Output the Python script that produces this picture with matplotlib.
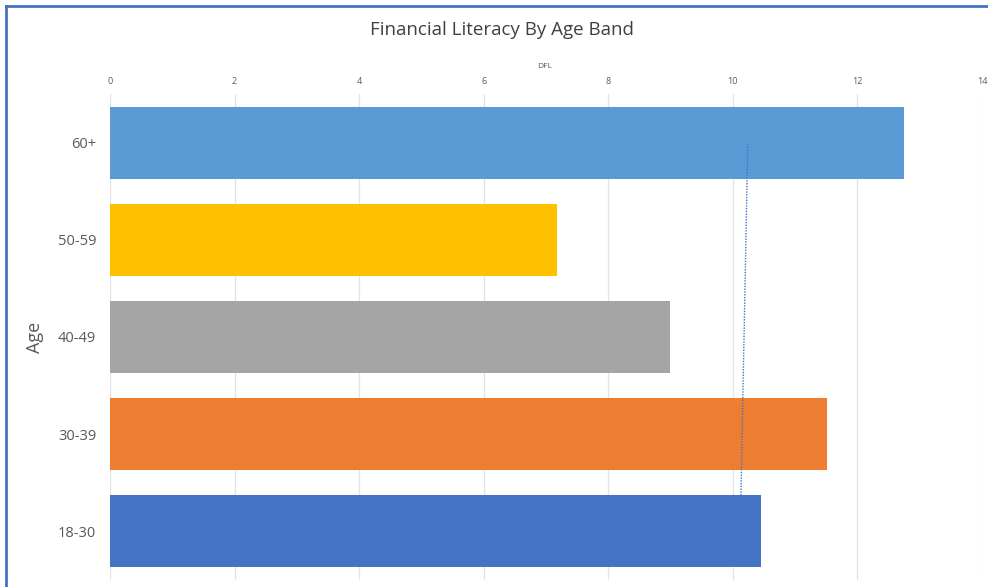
import matplotlib
matplotlib.use("Agg")
import matplotlib.pyplot as plt
from matplotlib.lines import Line2D

# Data
age_bands = ["18-30", "30-39", "40-49", "50-59", "60+"]
dfl_scores = [10.45, 11.51, 8.99, 7.17, 12.74]
bar_colors = ["#4472C4", "#ED7D31", "#A5A5A5", "#FFC000", "#5B9BD5"]
x_ticks = [0, 2, 4, 6, 8, 10, 12, 14]
trend_values = [10.13, 10.24]  # dotted trend from 18-30 up to 60+

plt.rcParams["font.family"] = ["Open Sans", "DejaVu Sans"]

fig = plt.figure(figsize=(9.88, 5.87), dpi=100)
ax = fig.add_axes([110 / 988, 1 - 580 / 587, 872 / 988, 486 / 587])

y = list(range(len(age_bands)))
ax.barh(y, dfl_scores, height=0.74, color=bar_colors, zorder=2)

# dotted trend line, from top edge of the 18-30 bar to centre of 60+
ax.plot(trend_values, [0.37, 4], linestyle=(0, (1, 1)), color="#4472C4",
        linewidth=1.0, zorder=3)

ax.set_xlim(0, 14)
ax.set_ylim(-0.5, 4.5)
ax.set_xticks(x_ticks)
ax.set_xticklabels([str(t) for t in x_ticks])
ax.xaxis.tick_top()
ax.xaxis.set_label_position("top")
ax.tick_params(axis="x", length=0, labelsize=6.5, colors="#595959", pad=6)
ax.tick_params(axis="y", length=0, labelsize=10.5, colors="#595959", pad=10)
ax.set_yticks(y)
ax.set_yticklabels(age_bands)
ax.grid(axis="x", color="#E3E3E3", linewidth=0.9, zorder=0)
ax.set_axisbelow(True)
for s in ax.spines.values():
    s.set_visible(False)

ax.set_xlabel("DFL", fontsize=6, color="#595959")
ax.set_ylabel("Age", fontsize=13, color="#595959")
ax.yaxis.set_label_coords(-66 / 872, 0.5)
ax.xaxis.set_label_coords(435 / 872, 1 + 26 / 486)

fig.text(502 / 988, 1 - 30 / 587, "Financial Literacy By Age Band",
         ha="center", va="center", fontsize=13.5, color="#404040")

# frame edges along top and left
fig.add_artist(Line2D([6 / 988, 1], [1 - 6 / 587, 1 - 6 / 587],
                      color="#4472C4", linewidth=2, transform=fig.transFigure))
fig.add_artist(Line2D([6 / 988, 6 / 988], [0, 1 - 6 / 587],
                      color="#4472C4", linewidth=2, transform=fig.transFigure))

fig.savefig("out.png", dpi=100)
